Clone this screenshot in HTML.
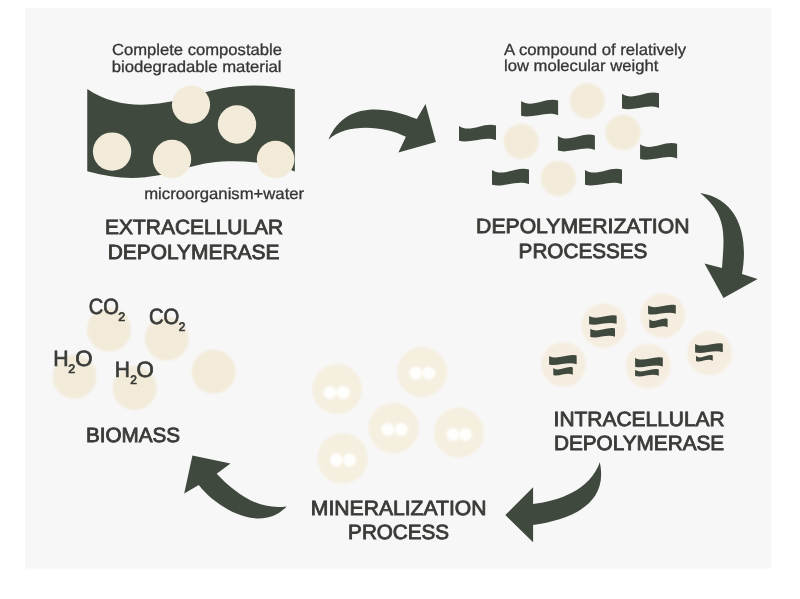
<!DOCTYPE html>
<html><head><meta charset="utf-8"><title>Biodegradation process</title>
<style>
html,body{margin:0;padding:0;background:#ffffff;width:800px;height:599px;overflow:hidden}
svg{display:block;will-change:transform}
text{font-family:"Liberation Sans",sans-serif;text-rendering:geometricPrecision}
</style></head>
<body>
<svg width="800" height="599" viewBox="0 0 800 599" font-family="Liberation Sans, sans-serif">
<defs><filter id="bl" x="-20%" y="-20%" width="140%" height="140%"><feGaussianBlur stdDeviation="1.2"/></filter><filter id="bl2" x="-30%" y="-30%" width="160%" height="160%"><feGaussianBlur stdDeviation="0.8"/></filter></defs>
<rect x="25" y="8" width="746.5" height="560.5" fill="#f7f7f7"/>
<path d="M87.25,89.1 C118.78,110.16 154.35,106.81 189.00,97.00 C226.86,84.18 255.52,82.60 294.85,89.30 L294.85,171.4 C264.66,159.87 220.19,157.49 189.30,167.25 C150.43,179.21 127.08,181.87 87.25,171.25 Z" fill="#40493e"/>
<circle cx="112.1" cy="151.6" r="19.2" fill="#f3ebda"/>
<circle cx="172" cy="159" r="19.2" fill="#f3ebda"/>
<circle cx="191" cy="104.7" r="19.1" fill="#f3ebda"/>
<circle cx="237" cy="124.5" r="19.2" fill="#f3ebda"/>
<circle cx="275.6" cy="159.5" r="18.8" fill="#f3ebda"/>
<circle cx="587.3" cy="100.9" r="17.6" fill="#f3ebda" filter="url(#bl)"/>
<circle cx="521.1" cy="141.5" r="17.6" fill="#f3ebda" filter="url(#bl)"/>
<circle cx="623" cy="132.5" r="17.6" fill="#f3ebda" filter="url(#bl)"/>
<circle cx="558.5" cy="178.5" r="17.6" fill="#f3ebda" filter="url(#bl)"/>
<path d="M521.1,101.1 C532.20,108.70 545.77,96.70 558.1,100.60 L558.1,115.20 C545.77,110.60 532.20,119.10 521.1,115.80 Z" fill="#40493e"/>
<path d="M622,93.8 C633.10,101.40 646.67,89.40 659,93.30 L659,107.90 C646.67,103.30 633.10,111.80 622,108.50 Z" fill="#40493e"/>
<path d="M459,126 C470.10,133.60 483.67,121.60 496,125.50 L496,140.10 C483.67,135.50 470.10,144.00 459,140.70 Z" fill="#40493e"/>
<path d="M557.9,135.9 C569.00,143.50 582.57,131.50 594.9,135.40 L594.9,150.00 C582.57,145.40 569.00,153.90 557.9,150.60 Z" fill="#40493e"/>
<path d="M640.1,144.3 C651.20,151.90 664.77,139.90 677.1,143.80 L677.1,158.40 C664.77,153.80 651.20,162.30 640.1,159.00 Z" fill="#40493e"/>
<path d="M492,170 C503.10,177.60 516.67,165.60 529,169.50 L529,184.10 C516.67,179.50 503.10,188.00 492,184.70 Z" fill="#40493e"/>
<path d="M585,170 C596.10,177.60 609.67,165.60 622,169.50 L622,184.10 C609.67,179.50 596.10,188.00 585,184.70 Z" fill="#40493e"/>
<circle cx="603.8" cy="325.5" r="22.3" fill="#f5eddf" filter="url(#bl)"/>
<path d="M589.1,316.1 C597.37,320.81 607.47,313.37 616.65,315.79 L616.65,323.83 C607.47,320.98 597.37,326.25 589.1,324.20 Z" fill="#40493e"/>
<path d="M590.3,328.8 C597.71,333.51 606.77,326.07 615,328.49 L615,336.63 C606.77,333.78 597.71,339.05 590.3,337.00 Z" fill="#40493e"/>
<circle cx="662.7" cy="315.5" r="22.3" fill="#f5eddf" filter="url(#bl)"/>
<path d="M648.1,305.6 C656.41,310.31 666.57,302.87 675.8,305.29 L675.8,313.73 C666.57,310.88 656.41,316.15 648.1,314.10 Z" fill="#40493e"/>
<path d="M649.3,319.3 C654.79,324.01 661.50,316.57 667.6,318.99 L667.6,327.23 C661.50,324.38 654.79,329.65 649.3,327.60 Z" fill="#40493e"/>
<circle cx="563.6" cy="364.3" r="22.3" fill="#f5eddf" filter="url(#bl)"/>
<path d="M549.1,355.9 C557.37,360.61 567.47,353.17 576.65,355.59 L576.65,364.23 C567.47,361.38 557.37,366.65 549.1,364.60 Z" fill="#40493e"/>
<path d="M553.3,367.9 C559.15,372.61 566.30,365.17 572.8,367.59 L572.8,374.73 C566.30,371.88 559.15,377.15 553.3,375.10 Z" fill="#40493e"/>
<circle cx="648.2" cy="366" r="22.3" fill="#f5eddf" filter="url(#bl)"/>
<path d="M635.1,358 C643.41,362.71 653.57,355.27 662.8,357.69 L662.8,366.43 C653.57,363.58 643.41,368.85 635.1,366.80 Z" fill="#40493e"/>
<path d="M635.1,369.8 C642.21,374.51 650.90,367.07 658.8,369.49 L658.8,375.63 C650.90,372.78 642.21,378.05 635.1,376.00 Z" fill="#40493e"/>
<circle cx="709.5" cy="353" r="22.3" fill="#f5eddf" filter="url(#bl)"/>
<path d="M695.1,344 C703.41,348.71 713.57,341.27 722.8,343.69 L722.8,352.13 C713.57,349.28 703.41,354.55 695.1,352.50 Z" fill="#40493e"/>
<path d="M696,355.8 C701.04,360.51 707.20,353.07 712.8,355.49 L712.8,360.73 C707.20,357.88 701.04,363.15 696,361.10 Z" fill="#40493e"/>
<circle cx="337.1" cy="389.1" r="25.0" fill="#f5efe0" filter="url(#bl)"/>
<circle cx="330" cy="392.4" r="6.5" fill="#fefefc" filter="url(#bl2)"/>
<circle cx="343.2" cy="392.4" r="6.5" fill="#fefefc" filter="url(#bl2)"/>
<circle cx="422" cy="372" r="25.2" fill="#f5efe0" filter="url(#bl)"/>
<circle cx="415.8" cy="373" r="6.5" fill="#fefefc" filter="url(#bl2)"/>
<circle cx="428.8" cy="373" r="6.5" fill="#fefefc" filter="url(#bl2)"/>
<circle cx="393.6" cy="428" r="25.2" fill="#f5efe0" filter="url(#bl)"/>
<circle cx="387.8" cy="429.4" r="6.5" fill="#fefefc" filter="url(#bl2)"/>
<circle cx="401.2" cy="429.4" r="6.5" fill="#fefefc" filter="url(#bl2)"/>
<circle cx="458.9" cy="432.6" r="25.0" fill="#f5efe0" filter="url(#bl)"/>
<circle cx="453" cy="434.5" r="6.5" fill="#fefefc" filter="url(#bl2)"/>
<circle cx="465.4" cy="434.5" r="6.5" fill="#fefefc" filter="url(#bl2)"/>
<circle cx="342.6" cy="458.3" r="25.3" fill="#f5efe0" filter="url(#bl)"/>
<circle cx="336.2" cy="459.9" r="6.5" fill="#fefefc" filter="url(#bl2)"/>
<circle cx="349.6" cy="459.9" r="6.5" fill="#fefefc" filter="url(#bl2)"/>
<circle cx="109" cy="329.6" r="22" fill="#f3ebda" filter="url(#bl)"/>
<circle cx="166.8" cy="338.6" r="22" fill="#f3ebda" filter="url(#bl)"/>
<circle cx="74.5" cy="376.7" r="22" fill="#f3ebda" filter="url(#bl)"/>
<circle cx="134.6" cy="388" r="22" fill="#f3ebda" filter="url(#bl)"/>
<circle cx="213.6" cy="371.6" r="22" fill="#f3ebda" filter="url(#bl)"/>
<path d="M328.4,139.8 C344.09,101.38 384.99,105.41 416.80,119.10 L425.5,104.1 L435.9,142.1 L398.4,152.6 L405.9,136.8 C385.41,125.87 346.11,122.43 328.40,139.80 Z" fill="#40493e"/>
<path d="M700,193 C740.61,199.24 748.29,239.52 742.00,274.00 L757.6,279 L723.5,297.9 L704.5,263.5 L722,268 C724.08,236.18 728.25,215.25 700.00,193.00 Z" fill="#40493e"/>
<path d="M599.8,462.3 C609.30,505.91 567.48,520.07 533.10,525.00 L533.1,542.2 L505.3,515.1 L533.1,487.2 L533.1,504 C559.65,500.97 590.14,489.76 599.80,462.30 Z" fill="#40493e"/>
<path d="M286.6,506.4 C261.89,533.78 216.74,508.96 198.80,485.10 L184.2,493.4 L192.4,455.4 L230.5,463.4 L216.7,473.8 C234.90,492.91 258.29,510.67 286.60,506.40 Z" fill="#40493e"/>
<text id="t1" x="111.95" y="54.90" font-size="16.00" fill="#363636" stroke="#363636" stroke-width="0.3" textLength="170.00" lengthAdjust="spacingAndGlyphs">Complete compostable</text>
<text id="t2" x="111.73" y="71.75" font-size="16.00" fill="#363636" stroke="#363636" stroke-width="0.3" textLength="169.87" lengthAdjust="spacingAndGlyphs">biodegradable material</text>
<text id="t3" x="504.08" y="54.65" font-size="16.00" fill="#363636" stroke="#363636" stroke-width="0.3" textLength="182.09" lengthAdjust="spacingAndGlyphs">A compound of relatively</text>
<text id="t4" x="503.99" y="71.40" font-size="16.00" fill="#363636" stroke="#363636" stroke-width="0.3" textLength="154.36" lengthAdjust="spacingAndGlyphs">low molecular weight</text>
<text id="t5" x="144.21" y="199.20" font-size="16.00" fill="#363636" stroke="#363636" stroke-width="0.3" textLength="159.92" lengthAdjust="spacingAndGlyphs">microorganism+water</text>
<text id="l1" x="105.12" y="234.00" font-size="20.60" fill="#393b37" stroke="#393b37" stroke-width="0.85" textLength="178.08" lengthAdjust="spacingAndGlyphs">EXTRACELLULAR</text>
<text id="l2" x="107.70" y="259.00" font-size="20.60" fill="#393b37" stroke="#393b37" stroke-width="0.85" textLength="171.79" lengthAdjust="spacingAndGlyphs">DEPOLYMERASE</text>
<text id="l3" x="476.11" y="233.00" font-size="20.60" fill="#393b37" stroke="#393b37" stroke-width="0.85" textLength="213.37" lengthAdjust="spacingAndGlyphs">DEPOLYMERIZATION</text>
<text id="l4" x="518.61" y="258.00" font-size="20.60" fill="#393b37" stroke="#393b37" stroke-width="0.85" textLength="128.80" lengthAdjust="spacingAndGlyphs">PROCESSES</text>
<text id="l5" x="553.64" y="426.00" font-size="20.60" fill="#393b37" stroke="#393b37" stroke-width="0.85" textLength="171.09" lengthAdjust="spacingAndGlyphs">INTRACELLULAR</text>
<text id="l6" x="553.90" y="450.00" font-size="20.60" fill="#393b37" stroke="#393b37" stroke-width="0.85" textLength="170.30" lengthAdjust="spacingAndGlyphs">DEPOLYMERASE</text>
<text id="l7" x="310.85" y="515.00" font-size="20.60" fill="#393b37" stroke="#393b37" stroke-width="0.85" textLength="175.59" lengthAdjust="spacingAndGlyphs">MINERALIZATION</text>
<text id="l8" x="348.12" y="539.00" font-size="20.60" fill="#393b37" stroke="#393b37" stroke-width="0.85" textLength="101.02" lengthAdjust="spacingAndGlyphs">PROCESS</text>
<text id="l9" x="85.91" y="442.00" font-size="20.60" fill="#393b37" stroke="#393b37" stroke-width="0.85" textLength="94.22" lengthAdjust="spacingAndGlyphs">BIOMASS</text>
<text id="c1" x="88.72" y="314.00" font-size="22.20" fill="#393b37" stroke="#393b37" stroke-width="0.7" textLength="30.19" lengthAdjust="spacingAndGlyphs">CO</text>
<text id="c2" x="118.32" y="321.00" font-size="12.40" fill="#393b37" stroke="#393b37" stroke-width="0.7" textLength="6.98" lengthAdjust="spacingAndGlyphs">2</text>
<text id="c3" x="148.97" y="324.00" font-size="22.20" fill="#393b37" stroke="#393b37" stroke-width="0.7" textLength="30.35" lengthAdjust="spacingAndGlyphs">CO</text>
<text id="c4" x="178.64" y="331.00" font-size="12.40" fill="#393b37" stroke="#393b37" stroke-width="0.7" textLength="6.58" lengthAdjust="spacingAndGlyphs">2</text>
<text id="c5" x="53.23" y="366.00" font-size="22.20" fill="#393b37" stroke="#393b37" stroke-width="0.7" textLength="15.35" lengthAdjust="spacingAndGlyphs">H</text>
<text id="c6" x="68.29" y="373.00" font-size="12.40" fill="#393b37" stroke="#393b37" stroke-width="0.7" textLength="6.93" lengthAdjust="spacingAndGlyphs">2</text>
<text id="c7" x="75.25" y="366.00" font-size="22.20" fill="#393b37" stroke="#393b37" stroke-width="0.7" textLength="17.35" lengthAdjust="spacingAndGlyphs">O</text>
<text id="c8" x="114.79" y="377.00" font-size="22.20" fill="#393b37" stroke="#393b37" stroke-width="0.7" textLength="15.14" lengthAdjust="spacingAndGlyphs">H</text>
<text id="c9" x="130.32" y="384.00" font-size="12.40" fill="#393b37" stroke="#393b37" stroke-width="0.7" textLength="6.68" lengthAdjust="spacingAndGlyphs">2</text>
<text id="c10" x="136.48" y="377.00" font-size="22.20" fill="#393b37" stroke="#393b37" stroke-width="0.7" textLength="17.33" lengthAdjust="spacingAndGlyphs">O</text>
</svg>
</body></html>
